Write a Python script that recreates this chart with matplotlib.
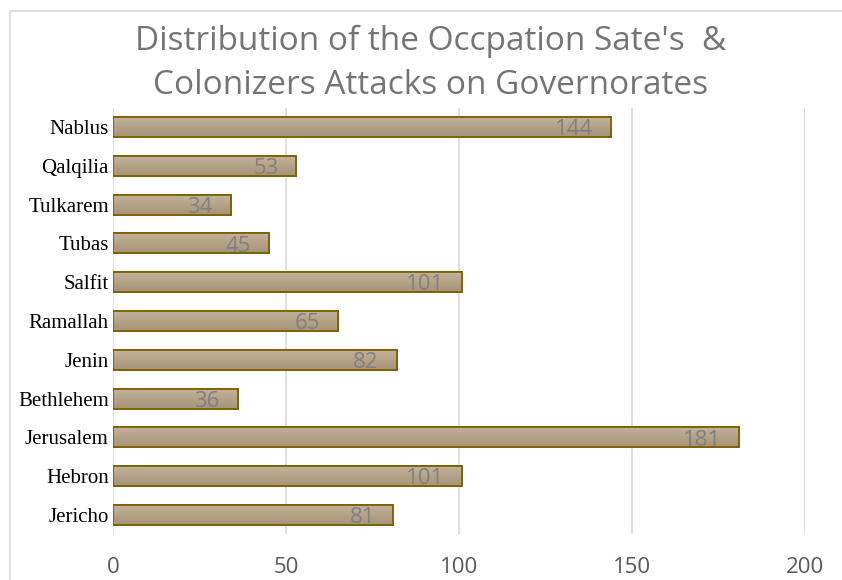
import matplotlib
matplotlib.use("Agg")
import matplotlib.pyplot as plt
import numpy as np
from matplotlib.patches import Rectangle

categories = ["Jericho", "Hebron", "Jerusalem", "Bethlehem", "Jenin", "Ramallah",
              "Salfit", "Tubas", "Tulkarem", "Qalqilia", "Nablus"]
values = [81, 101, 181, 36, 82, 65, 101, 45, 34, 53, 144]
xticks = [0, 50, 100, 150, 200]

fig = plt.figure(figsize=(8.42, 5.8), dpi=100)
ax = fig.add_axes([113/842, 1-534.4/580, (805-113)/842, (534.4-107.6)/580])

# chart border
fig.patches.append(Rectangle((10/842, -0.1), 1.0, 1 - 11/580 + 0.1, transform=fig.transFigure,
                             fill=False, edgecolor="#d9d9d9", linewidth=1.2))

y = list(range(len(categories)))
bars = ax.barh(y, values, height=0.52, color="#b5a488", edgecolor="#7f6000", linewidth=1.3, zorder=3)

# vertical gradient fill inside each bar
top = np.array([0xc4, 0xb4, 0x9c]) / 255
bot = np.array([0xa6, 0x93, 0x77]) / 255
t = np.linspace(0, 1, 64)[:, None]
grad = (top[None, :] * (1 - t) + bot[None, :] * t)[:, None, :]
for b in bars:
    x0, y0 = b.get_x(), b.get_y()
    w, h = b.get_width(), b.get_height()
    im = ax.imshow(grad, extent=(x0, x0 + w, y0, y0 + h), origin="upper",
                   aspect="auto", zorder=3.5, interpolation="bilinear")
    im.set_clip_path(b)
    ax.add_patch(Rectangle((x0, y0), w, h, fill=False, edgecolor="#7f6000",
                           linewidth=1.3, zorder=3.6))

for yi, v in zip(y, values):
    ax.text(v - 5.2, yi - 0.07, str(v), ha="right", va="center", color="#808080",
            fontsize=16, family="Open Sans", zorder=4)

ax.set_xlim(0, 200)
ax.set_ylim(-0.5, len(categories) - 0.5)
ax.set_yticks(y)
ax.set_yticklabels(categories, family="Liberation Serif", fontsize=15, color="#000000")
ax.set_xticks(xticks)
ax.set_xticklabels([str(t) for t in xticks], family="Open Sans", fontsize=16, color="#595959")
ax.tick_params(axis="both", length=0)
ax.tick_params(axis="x", pad=16)
ax.tick_params(axis="y", pad=3)
ax.grid(axis="x", color="#d9d9d9", linewidth=1.2, zorder=0)
for s in ax.spines.values():
    s.set_visible(False)

fig.text(431/842, 1-41/580, "Distribution of the Occpation Sate's  &", ha="center", va="center",
         fontsize=24, color="#757575", family="Open Sans")
fig.text(431/842, 1-86/580, "Colonizers Attacks on Governorates", ha="center", va="center",
         fontsize=24, color="#757575", family="Open Sans")

fig.savefig("out.png", dpi=100, facecolor="white")
